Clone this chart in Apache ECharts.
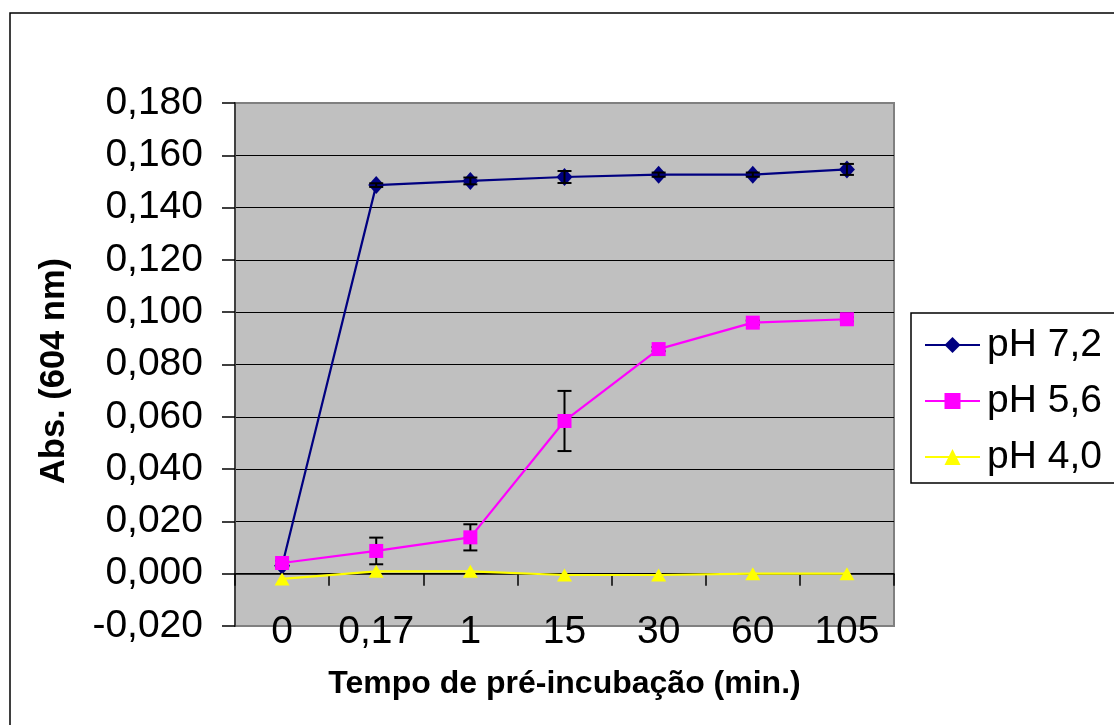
<!DOCTYPE html>
<html>
<head>
<meta charset="utf-8">
<script src="https://cdn.jsdelivr.net/npm/echarts@6/dist/echarts.min.js"></script>
<style>
html,body{margin:0;padding:0;background:#fff;}
#chart{width:1114px;height:725px;}
</style>
</head>
<body>
<div id="chart"></div>
<script>
const categories = ['0', '0,17', '1', '15', '30', '60', '105'];
const seriesNames = ['pH 7,2', 'pH 5,6', 'pH 4,0'];
const ph72 = [0.0030, 0.1486, 0.1502, 0.1517, 0.1526, 0.1526, 0.1546];
const ph56 = [0.0041, 0.0087, 0.0139, 0.0584, 0.0859, 0.0960, 0.0973];
const ph40 = [-0.0020, 0.0009, 0.0009, -0.0005, -0.0005, 0.0000, 0.0000];
const err72 = [0.0005, 0.0007, 0.0013, 0.0023, 0.0008, 0.0008, 0.0021];
const err56 = [0.0008, 0.0051, 0.0050, 0.0115, 0.0008, 0.0008, 0.0008];
const yMin = -0.020, yMax = 0.180, yStep = 0.020;
const xTitle = 'Tempo de pré-incubação (min.)';
const yTitle = 'Abs. (604 nm)';

const FONT = 'Liberation Sans, Arial, sans-serif';
const chart = echarts.init(document.getElementById('chart'), null, {renderer: 'canvas'});

function errData(vals, errs) {
  return vals.map((v, i) => [i, v, errs[i]]);
}
function errRender(params, api) {
  const x = api.value(0), v = api.value(1), e = api.value(2);
  const top = api.coord([x, v + e]);
  const bot = api.coord([x, v - e]);
  const hw = 7;
  const st = {stroke: '#000', lineWidth: 2};
  return {
    type: 'group',
    children: [
      {type: 'line', shape: {x1: top[0], y1: top[1], x2: bot[0], y2: bot[1]}, style: st},
      {type: 'line', shape: {x1: top[0] - hw, y1: top[1], x2: top[0] + hw, y2: top[1]}, style: st},
      {type: 'line', shape: {x1: bot[0] - hw, y1: bot[1], x2: bot[0] + hw, y2: bot[1]}, style: st}
    ]
  };
}

const option = {
  animation: false,
  backgroundColor: '#fff',
  textStyle: {fontFamily: FONT},
  graphic: [{
    type: 'rect', silent: true, z: -10,
    shape: {x: 10, y: 13, width: 1300, height: 900},
    style: {fill: 'none', stroke: '#000', lineWidth: 1.5}
  }, {
    type: 'text', silent: true,
    x: 54, y: 371, rotation: Math.PI / 2,
    style: {
      text: yTitle, fontFamily: FONT, fontSize: 34.5, fontWeight: 'bold', fill: '#000',
      align: 'center', verticalAlign: 'middle'
    }
  }],
  grid: {
    left: 235, top: 103, right: 220, bottom: 99,
    show: true, backgroundColor: '#c0c0c0', borderColor: '#808080', borderWidth: 2
  },
  legend: {
    orient: 'vertical', left: 911, top: 313,
    padding: [12, 22, 6, 13],
    itemWidth: 55, itemHeight: 20, itemGap: 16,
    borderColor: '#000', borderWidth: 1.5,
    textStyle: {fontFamily: FONT, fontSize: 39, color: '#000', lineHeight: 40, padding: [0, 0, 0, 2]},
    data: seriesNames
  },
  xAxis: [{
    type: 'category', data: categories, boundaryGap: true, position: 'bottom',
    axisLine: {show: false, onZero: false},
    axisTick: {show: false},
    axisLabel: {fontFamily: FONT, fontSize: 39, color: '#000', margin: -13, interval: 0},
    splitLine: {show: false},
    name: xTitle, nameLocation: 'middle', nameGap: 42,
    nameTextStyle: {fontFamily: FONT, fontSize: 32, fontWeight: 'bold', color: '#000'}
  }, {
    type: 'category', data: categories, boundaryGap: true, position: 'bottom',
    axisLine: {show: true, onZero: true, lineStyle: {color: '#000', width: 1.5}},
    axisTick: {show: true, inside: false, length: 12, interval: 0, lineStyle: {color: '#000', width: 1.5}},
    axisLabel: {show: false},
    splitLine: {show: false}
  }],
  yAxis: {
    type: 'value', min: yMin, max: yMax, interval: yStep,
    axisLine: {show: true, lineStyle: {color: '#404040', width: 2}},
    axisTick: {show: true, inside: false, length: 13, lineStyle: {color: '#000', width: 1.5}},
    axisLabel: {
      fontFamily: FONT, fontSize: 39, color: '#000', margin: 32,
      formatter: v => v.toFixed(3).replace('.', ',')
    },
    splitLine: {show: true, showMinLine: false, showMaxLine: false, lineStyle: {color: '#000', width: 1.2}}
  },
  series: [
    {
      name: seriesNames[0], type: 'line', data: ph72, z: 3,
      symbol: 'diamond', symbolSize: [16, 18],
      lineStyle: {color: '#000080', width: 2.2},
      itemStyle: {color: '#000080'}
    },
    {
      type: 'custom', data: errData(ph72, err72), renderItem: errRender, z: 4,
      encode: {x: 0, y: 1}, silent: true
    },
    {
      type: 'custom', data: errData(ph56, err56), renderItem: errRender, z: 4,
      encode: {x: 0, y: 1}, silent: true
    },
    {
      name: seriesNames[1], type: 'line', data: ph56, z: 5,
      symbol: 'rect', symbolSize: 14,
      lineStyle: {color: '#ff00ff', width: 2.2},
      itemStyle: {color: '#ff00ff'}
    },
    {
      name: seriesNames[2], type: 'line', data: ph40, z: 6,
      symbol: 'triangle', symbolSize: [15, 13],
      lineStyle: {color: '#ffff00', width: 2.2},
      itemStyle: {color: '#ffff00'}
    }
  ]
};
chart.setOption(option);
</script>
</body>
</html>
